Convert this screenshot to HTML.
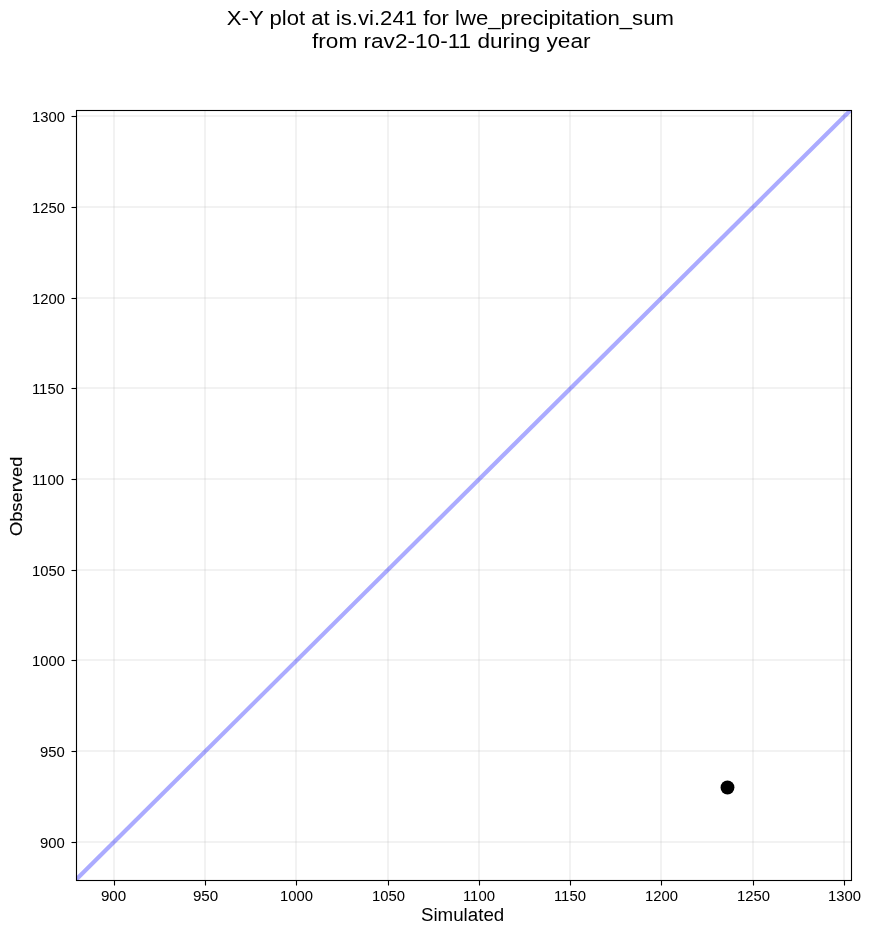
<!DOCTYPE html>
<html><head><meta charset="utf-8"><title>X-Y plot</title><style>
html,body{margin:0;padding:0;background:#fff;width:871px;height:934px;overflow:hidden}
svg{display:block;position:absolute;left:0;top:0;will-change:transform}
text{font-family:"Liberation Sans",sans-serif;fill:#000}
</style></head><body>
<svg width="871" height="934" viewBox="0 0 871 934">
<rect x="0" y="0" width="871" height="934" fill="#ffffff"/>
<defs><clipPath id="ax"><rect x="76" y="110" width="775" height="770"/></clipPath></defs>
<g clip-path="url(#ax)" stroke="#b0b0b0" stroke-opacity="0.165" stroke-width="2.08" fill="none">
<line x1="114" y1="110" x2="114" y2="880"/>
<line x1="205" y1="110" x2="205" y2="880"/>
<line x1="296" y1="110" x2="296" y2="880"/>
<line x1="388" y1="110" x2="388" y2="880"/>
<line x1="479" y1="110" x2="479" y2="880"/>
<line x1="570" y1="110" x2="570" y2="880"/>
<line x1="661" y1="110" x2="661" y2="880"/>
<line x1="753" y1="110" x2="753" y2="880"/>
<line x1="844" y1="110" x2="844" y2="880"/>
<line x1="75.75" y1="116" x2="850.75" y2="116"/>
<line x1="75.75" y1="207" x2="850.75" y2="207"/>
<line x1="75.75" y1="298" x2="850.75" y2="298"/>
<line x1="75.75" y1="388" x2="850.75" y2="388"/>
<line x1="75.75" y1="479" x2="850.75" y2="479"/>
<line x1="75.75" y1="570" x2="850.75" y2="570"/>
<line x1="75.75" y1="660" x2="850.75" y2="660"/>
<line x1="75.75" y1="751" x2="850.75" y2="751"/>
<line x1="75.75" y1="842" x2="850.75" y2="842"/>
</g>
<g clip-path="url(#ax)"><line x1="65.75" y1="889.9354838709677" x2="860.75" y2="100.06451612903226" stroke="#0000ff" stroke-opacity="0.33" stroke-width="4.17"/></g>
<circle cx="727.5" cy="787.5" r="6.94" fill="#000000"/>
<rect x="76.5" y="110.5" width="775" height="770" fill="none" stroke="#000000" stroke-width="1.11"/>
<g stroke="#000000" stroke-width="1.11" fill="none">
<line x1="114.5" y1="880.5" x2="114.5" y2="885.5"/>
<line x1="205.5" y1="880.5" x2="205.5" y2="885.5"/>
<line x1="296.5" y1="880.5" x2="296.5" y2="885.5"/>
<line x1="388.5" y1="880.5" x2="388.5" y2="885.5"/>
<line x1="479.5" y1="880.5" x2="479.5" y2="885.5"/>
<line x1="570.5" y1="880.5" x2="570.5" y2="885.5"/>
<line x1="661.5" y1="880.5" x2="661.5" y2="885.5"/>
<line x1="753.5" y1="880.5" x2="753.5" y2="885.5"/>
<line x1="844.5" y1="880.5" x2="844.5" y2="885.5"/>
<line x1="71.5" y1="116.5" x2="76.5" y2="116.5"/>
<line x1="71.5" y1="207.5" x2="76.5" y2="207.5"/>
<line x1="71.5" y1="298.5" x2="76.5" y2="298.5"/>
<line x1="71.5" y1="388.5" x2="76.5" y2="388.5"/>
<line x1="71.5" y1="479.5" x2="76.5" y2="479.5"/>
<line x1="71.5" y1="570.5" x2="76.5" y2="570.5"/>
<line x1="71.5" y1="660.5" x2="76.5" y2="660.5"/>
<line x1="71.5" y1="751.5" x2="76.5" y2="751.5"/>
<line x1="71.5" y1="842.5" x2="76.5" y2="842.5"/>
</g>
<text font-size="13.89" stroke="#000" stroke-width="0.025" transform="matrix(1.09091 0 0 1.00000 100.909 901.000)">900</text>
<text font-size="13.89" stroke="#000" stroke-width="0.025" transform="matrix(1.09091 0 0 1.00000 192.909 901.000)">950</text>
<text font-size="13.89" stroke="#000" stroke-width="0.025" transform="matrix(1.06778 0 0 1.00000 279.932 901.000)">1000</text>
<text font-size="13.89" stroke="#000" stroke-width="0.025" transform="matrix(1.06778 0 0 1.00000 371.932 901.000)">1050</text>
<text font-size="13.89" stroke="#000" stroke-width="0.025" transform="matrix(1.07254 0 0 1.00000 462.927 901.000)">1100</text>
<text font-size="13.89" stroke="#000" stroke-width="0.025" transform="matrix(1.07254 0 0 1.00000 553.927 901.000)">1150</text>
<text font-size="13.89" stroke="#000" stroke-width="0.025" transform="matrix(1.06778 0 0 1.00000 644.932 901.000)">1200</text>
<text font-size="13.89" stroke="#000" stroke-width="0.025" transform="matrix(1.06778 0 0 1.00000 736.932 901.000)">1250</text>
<text font-size="13.89" stroke="#000" stroke-width="0.025" transform="matrix(1.06778 0 0 1.00000 827.932 901.000)">1300</text>
<text font-size="13.89" stroke="#000" stroke-width="0.025" transform="matrix(1.06778 0 0 1.00000 31.932 122.000)">1300</text>
<text font-size="13.89" stroke="#000" stroke-width="0.025" transform="matrix(1.06778 0 0 1.00000 31.932 213.000)">1250</text>
<text font-size="13.89" stroke="#000" stroke-width="0.025" transform="matrix(1.06778 0 0 1.00000 31.932 304.000)">1200</text>
<text font-size="13.89" stroke="#000" stroke-width="0.025" transform="matrix(1.07254 0 0 1.00000 31.927 394.000)">1150</text>
<text font-size="13.89" stroke="#000" stroke-width="0.025" transform="matrix(1.07254 0 0 1.00000 31.927 485.000)">1100</text>
<text font-size="13.89" stroke="#000" stroke-width="0.025" transform="matrix(1.06778 0 0 1.00000 31.932 576.000)">1050</text>
<text font-size="13.89" stroke="#000" stroke-width="0.025" transform="matrix(1.06778 0 0 1.00000 31.932 666.000)">1000</text>
<text font-size="13.89" stroke="#000" stroke-width="0.025" transform="matrix(1.06915 0 0 1.00000 39.931 757.000)">950</text>
<text font-size="13.89" stroke="#000" stroke-width="0.025" transform="matrix(1.06915 0 0 1.00000 39.931 848.000)">900</text>
<text font-size="16.67" transform="matrix(1.12500 0 0 1.06000 420.875 921.000)">Simulated</text>
<text font-size="16.67" stroke="#000" stroke-width="0.15" transform="matrix(0 -1.10000 1.00000 0 22.000 536.100)">Observed</text>
<text font-size="19.44" transform="matrix(1.13811 0 0 1.03878 226.860 24.595)">X-Y plot at is.vi.241 for lwe_precipitation_sum</text>
<text font-size="19.44" transform="matrix(1.16318 0 0 1.00000 312.000 48.000)">from rav2-10-11 during year</text>
</svg>
</body></html>
